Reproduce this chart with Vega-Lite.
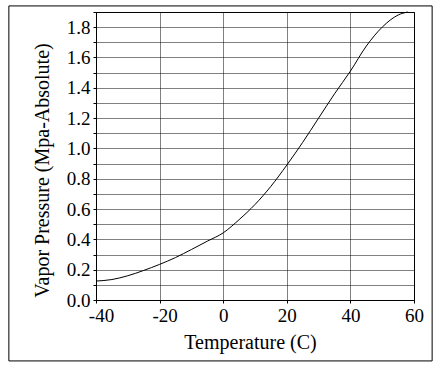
{
  "$schema": "https://vega.github.io/schema/vega-lite/v6.json",
  "width": 318,
  "height": 288,
  "autosize": {"type": "none"},
  "padding": {"left": 96, "top": 12, "right": 25, "bottom": 69},
  "background": "white",
  "config": {
    "view": {"stroke": "black", "strokeWidth": 1},
    "font": "Liberation Serif",
    "axis": {
      "labelFont": "Liberation Serif",
      "titleFont": "Liberation Serif",
      "labelColor": "black",
      "titleColor": "black",
      "labelFontSize": 19,
      "titleFontSize": 20,
      "titleFontWeight": "normal",
      "domainColor": "black",
      "tickColor": "black",
      "labelOverlap": false,
      "labelBound": false,
      "labelFlush": false
    }
  },
  "layer": [
    {
      "data": {"values": [{}]},
      "mark": {"type": "rect", "fill": null, "stroke": "black", "strokeWidth": 1, "clip": false},
      "encoding": {
        "x": {"datum": -67.4, "type": "quantitative", "scale": {"domain": [-40, 60], "nice": false, "zero": false},
          "axis": {
            "title": "Temperature (C)",
            "values": [-40, -30, -20, -10, 0, 10, 20, 30, 40, 50, 60],
            "labelExpr": "datum.value % 20 == 0 ? (datum.value < 0 ? '-' + abs(datum.value) : '' + datum.value) : ''",
            "labelOffset": {"condition": {"test": "datum.value < 0", "value": 5}, "value": 0},
            "grid": true,
            "gridColor": "black",
            "gridDash": [1, 1],
            "gridWidth": 1,
            "gridOpacity": {"condition": {"test": "datum.value % 20 == 0", "value": 1}, "value": 0},
            "tickSize": {"condition": {"test": "datum.value % 20 == 0", "value": 3}, "value": -3},
            "labelPadding": 3.5,
            "titlePadding": 7,
            "titleX": 154
          }},
        "x2": {"datum": 65.7},
        "y": {"datum": 1.94, "type": "quantitative", "scale": {"domain": [0, 1.9], "nice": false},
          "axis": {
            "title": "Vapor Pressure (Mpa-Absolute)",
            "tickCount": 19,
            "labelExpr": "round(datum.value * 10) % 2 == 0 && datum.value < 1.85 ? format(datum.value, '.1f') : ''",
            "grid": true,
            "gridColor": "black",
            "gridDash": [1, 1],
            "gridWidth": 1,
            "gridOpacity": 1,
            "tickSize": 3,
            "labelPadding": 3,
            "titlePadding": 14,
            "titleY": 158
          }},
        "y2": {"datum": -0.402}
      }
    },
    {
      "data": {"values": [
        {"t": -40, "p": 0.125},
        {"t": -35, "p": 0.135},
        {"t": -30, "p": 0.16},
        {"t": -25, "p": 0.195},
        {"t": -20, "p": 0.235},
        {"t": -15, "p": 0.28},
        {"t": -10, "p": 0.333},
        {"t": -5, "p": 0.388},
        {"t": 0, "p": 0.443},
        {"t": 5, "p": 0.53},
        {"t": 10, "p": 0.63},
        {"t": 15, "p": 0.75},
        {"t": 20, "p": 0.89},
        {"t": 25, "p": 1.04},
        {"t": 30, "p": 1.2},
        {"t": 35, "p": 1.36},
        {"t": 40, "p": 1.51},
        {"t": 45, "p": 1.675},
        {"t": 50, "p": 1.8},
        {"t": 55, "p": 1.88},
        {"t": 58, "p": 1.9}
      ]},
      "mark": {"type": "line", "color": "black", "strokeWidth": 1, "interpolate": "monotone"},
      "encoding": {
        "x": {"field": "t", "type": "quantitative", "title": "Temperature (C)"},
        "y": {"field": "p", "type": "quantitative", "title": "Vapor Pressure (Mpa-Absolute)"}
      }
    }
  ]
}
